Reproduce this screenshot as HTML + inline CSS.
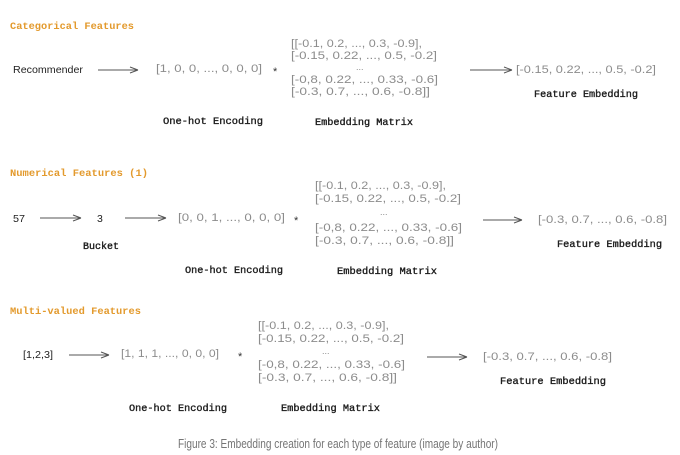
<!DOCTYPE html>
<html><head><meta charset="utf-8"><style>
html,body{margin:0;padding:0;background:#fff;}
svg{display:block}
.t{font-family:"Liberation Mono",monospace;font-weight:bold;font-size:10.5px;fill:#e39a2d}
.h{font-family:"Liberation Sans",sans-serif;font-size:11px;fill:#8c8c8c}
.l{font-family:"Liberation Mono",monospace;font-size:10.5px;fill:#1a1a1a;stroke:#1a1a1a;stroke-width:0.35}
.s{font-family:"Liberation Sans",sans-serif;font-size:10.5px;fill:#222}
.c{font-family:"Liberation Sans",sans-serif;font-size:12.5px;fill:#757575}
line{stroke:#555;stroke-width:1}
</style></head><body>
<svg width="680" height="455" viewBox="0 0 680 455">
<defs><g id="ah"><path d="M0,0 L-8,-3 M0,0 L-8,3" stroke="#555" fill="none"/></g></defs>

<!-- Section 1 -->
<text class="t" x="10" y="29" textLength="124" lengthAdjust="spacingAndGlyphs">Categorical Features</text>
<text class="s" x="13" y="73" textLength="70" lengthAdjust="spacingAndGlyphs">Recommender</text>
<line x1="98" y1="70" x2="138" y2="70"/><use href="#ah" x="138" y="70"/>
<text class="h" x="156" y="72" textLength="106" lengthAdjust="spacingAndGlyphs">[1, 0, 0, ..., 0, 0, 0]</text>
<text class="h" x="273" y="75" style="fill:#333">*</text>
<text class="h" x="291" y="47" textLength="131" lengthAdjust="spacingAndGlyphs">[[-0.1, 0.2, ..., 0.3, -0.9],</text>
<text class="h" x="291" y="59" textLength="146" lengthAdjust="spacingAndGlyphs">[-0.15, 0.22, ..., 0.5, -0.2]</text>
<text class="h" x="356" y="70" style="font-size:9px">...</text>
<text class="h" x="291" y="83" textLength="147" lengthAdjust="spacingAndGlyphs">[-0,8, 0.22, ..., 0.33, -0.6]</text>
<text class="h" x="291" y="95" textLength="139" lengthAdjust="spacingAndGlyphs">[-0.3, 0.7, ..., 0.6, -0.8]]</text>
<line x1="470" y1="70" x2="512" y2="70"/><use href="#ah" x="512" y="70"/>
<text class="h" x="516" y="73" textLength="140" lengthAdjust="spacingAndGlyphs">[-0.15, 0.22, ..., 0.5, -0.2]</text>
<text class="l" x="534" y="97" textLength="104" lengthAdjust="spacingAndGlyphs">Feature Embedding</text>
<text class="l" x="163" y="124" textLength="100" lengthAdjust="spacingAndGlyphs">One-hot Encoding</text>
<text class="l" x="315" y="125" textLength="98" lengthAdjust="spacingAndGlyphs">Embedding Matrix</text>

<!-- Section 2 -->
<text class="t" x="10" y="176" textLength="138" lengthAdjust="spacingAndGlyphs">Numerical Features (1)</text>
<text class="s" x="13" y="222" textLength="12" lengthAdjust="spacingAndGlyphs">57</text>
<line x1="40" y1="218" x2="81" y2="218"/><use href="#ah" x="81" y="218"/>
<text class="s" x="97" y="222">3</text>
<line x1="125" y1="218" x2="166" y2="218"/><use href="#ah" x="166" y="218"/>
<text class="h" x="178" y="221" textLength="107" lengthAdjust="spacingAndGlyphs">[0, 0, 1, ..., 0, 0, 0]</text>
<text class="h" x="294" y="224" style="fill:#333">*</text>
<text class="h" x="315" y="189" textLength="131" lengthAdjust="spacingAndGlyphs">[[-0.1, 0.2, ..., 0.3, -0.9],</text>
<text class="h" x="315" y="202" textLength="146" lengthAdjust="spacingAndGlyphs">[-0.15, 0.22, ..., 0.5, -0.2]</text>
<text class="h" x="380" y="215" style="font-size:9px">...</text>
<text class="h" x="315" y="231" textLength="147" lengthAdjust="spacingAndGlyphs">[-0,8, 0.22, ..., 0.33, -0.6]</text>
<text class="h" x="315" y="244" textLength="139" lengthAdjust="spacingAndGlyphs">[-0.3, 0.7, ..., 0.6, -0.8]]</text>
<line x1="483" y1="220" x2="522" y2="220"/><use href="#ah" x="522" y="220"/>
<text class="h" x="538" y="223" textLength="129" lengthAdjust="spacingAndGlyphs">[-0.3, 0.7, ..., 0.6, -0.8]</text>
<text class="l" x="557" y="247" textLength="105" lengthAdjust="spacingAndGlyphs">Feature Embedding</text>
<text class="l" x="83" y="249" textLength="36" lengthAdjust="spacingAndGlyphs">Bucket</text>
<text class="l" x="185" y="273" textLength="98" lengthAdjust="spacingAndGlyphs">One-hot Encoding</text>
<text class="l" x="337" y="274" textLength="100" lengthAdjust="spacingAndGlyphs">Embedding Matrix</text>

<!-- Section 3 -->
<text class="t" x="10" y="314" textLength="131" lengthAdjust="spacingAndGlyphs">Multi-valued Features</text>
<text class="s" x="23" y="358" textLength="30" lengthAdjust="spacingAndGlyphs">[1,2,3]</text>
<line x1="69" y1="355" x2="109" y2="355"/><use href="#ah" x="109" y="355"/>
<text class="h" x="121" y="357" textLength="98" lengthAdjust="spacingAndGlyphs">[1, 1, 1, ..., 0, 0, 0]</text>
<text class="h" x="238" y="360" style="fill:#333">*</text>
<text class="h" x="258" y="329" textLength="131" lengthAdjust="spacingAndGlyphs">[[-0.1, 0.2, ..., 0.3, -0.9],</text>
<text class="h" x="258" y="342" textLength="146" lengthAdjust="spacingAndGlyphs">[-0.15, 0.22, ..., 0.5, -0.2]</text>
<text class="h" x="322" y="354" style="font-size:9px">...</text>
<text class="h" x="258" y="368" textLength="147" lengthAdjust="spacingAndGlyphs">[-0,8, 0.22, ..., 0.33, -0.6]</text>
<text class="h" x="258" y="381" textLength="139" lengthAdjust="spacingAndGlyphs">[-0.3, 0.7, ..., 0.6, -0.8]]</text>
<line x1="427" y1="357" x2="467" y2="357"/><use href="#ah" x="467" y="357"/>
<text class="h" x="483" y="360" textLength="129" lengthAdjust="spacingAndGlyphs">[-0.3, 0.7, ..., 0.6, -0.8]</text>
<text class="l" x="500" y="384" textLength="106" lengthAdjust="spacingAndGlyphs">Feature Embedding</text>
<text class="l" x="129" y="411" textLength="98" lengthAdjust="spacingAndGlyphs">One-hot Encoding</text>
<text class="l" x="281" y="411" textLength="99" lengthAdjust="spacingAndGlyphs">Embedding Matrix</text>

<text class="c" x="178" y="448" textLength="320" lengthAdjust="spacingAndGlyphs">Figure 3: Embedding creation for each type of feature (image by author)</text>
</svg>
</body></html>
